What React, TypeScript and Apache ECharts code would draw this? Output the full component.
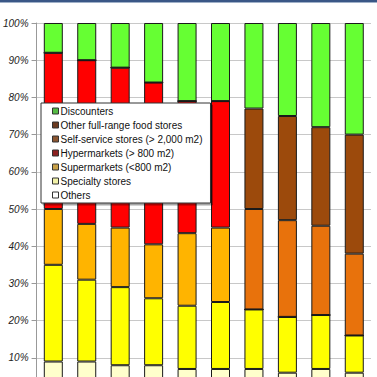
import React, { useEffect, useRef } from "react";
import * as echarts from "echarts";

const categories = ["1", "2", "3", "4", "5", "6", "7", "8", "9", "10"];
const seriesNames = [
  "Others",
  "Specialty stores",
  "Supermarkets (<800 m2)",
  "Hypermarkets (> 800 m2)",
  "Self-service stores (> 2,000 m2)",
  "Other full-range food stores",
  "Discounters",
];
const others = [9, 9, 8, 8, 7, 7, 7, 6, 7, 6];
const specialty = [26, 22, 21, 18, 17, 18, 16, 15, 14.5, 10];
const supermarkets = [15, 15, 16, 14.5, 19.5, 20, 0, 0, 0, 0];
const hypermarkets = [42, 44, 43, 43.5, 35.5, 34, 0, 0, 0, 0];
const selfService = [0, 0, 0, 0, 0, 0, 27, 26, 24, 22];
const otherFullRange = [0, 0, 0, 0, 0, 0, 27, 28, 26.5, 32];
const discounters = [8, 10, 12, 16, 21, 21, 23, 25, 28, 30];
const seriesValues = [others, specialty, supermarkets, hypermarkets, selfService, otherFullRange, discounters];
const barColors = ["#FFFFCC", "#FFFF00", "#FFB400", "#FF0000", "#E8720C", "#9C4A0C", "#66FF33"];
const legendColors = ["#ffffff", "#f2f2a8", "#c8a048", "#8c2020", "#8b5530", "#6b3a1f", "#55bb44"];
const yTicks = [0, 10, 20, 30, 40, 50, 60, 70, 80, 90, 100];

export default function App() {
  const ref = useRef<HTMLDivElement>(null);
  useEffect(() => {
    if (!ref.current) return;
    const chart = echarts.init(ref.current, undefined, { renderer: "svg" });
    const font = "'Liberation Sans', Arial, sans-serif";
    chart.setOption({
      animation: false,
      backgroundColor: "#ffffff",
      textStyle: { fontFamily: font },
      graphic: [
        { type: "rect", shape: { x: 0, y: 0, width: 377, height: 2 }, style: { fill: "#3a5786" } },
        { type: "rect", shape: { x: 0, y: 2, width: 377, height: 1 }, style: { fill: "#9fb0c8" } },
      ],
      grid: { left: 36, top: 23, width: 335, height: 372, containLabel: false },
      legend: {
        left: 41,
        top: 103,
        orient: "vertical",
        backgroundColor: "#ffffff",
        borderColor: "#333333",
        borderWidth: 1,
        borderRadius: 0,
        padding: [2, 8, 2, 11],
        itemWidth: 6,
        itemHeight: 6,
        itemGap: 2,
        itemStyle: { borderColor: "#333333", borderWidth: 1 },
        icon: "rect",
        shadowColor: "rgba(0,0,0,0.35)",
        shadowOffsetX: 2,
        shadowOffsetY: 2,
        shadowBlur: 0,
        textStyle: { fontSize: 10, lineHeight: 12, color: "#111", fontFamily: font, padding: [0, 0, 0, -3] },
        data: seriesNames
          .map((n, i) => ({ name: n, itemStyle: { color: legendColors[i] } }))
          .reverse(),
      },
      xAxis: {
        type: "category",
        data: categories,
        axisLabel: { show: false },
        axisTick: { show: false },
        axisLine: { lineStyle: { color: "#999" } },
      },
      yAxis: {
        type: "value",
        min: yTicks[0],
        max: yTicks[yTicks.length - 1],
        interval: 10,
        axisLine: { show: true, lineStyle: { color: "#999" } },
        axisTick: { show: true, length: 5, lineStyle: { color: "#999" } },
        splitLine: { lineStyle: { color: "#c8c8c8" } },
        axisLabel: {
          formatter: (v: number) => (v === 0 ? "" : v + "%"),
          fontSize: 10,
          fontStyle: "italic",
          color: "#222",
          fontFamily: font,
          margin: 8,
        },
      },
      series: seriesNames.map((name, i) => ({
        name,
        type: "bar",
        stack: "total",
        barWidth: 19,
        data: seriesValues[i],
        itemStyle: { color: barColors[i], borderColor: "#1a1a1a", borderWidth: 1 },
      })),
    });
    return () => chart.dispose();
  }, []);
  return (
    <div
      ref={ref}
      style={{ position: "fixed", left: 0, top: 0, width: 377, height: 420 }}
    />
  );
}
